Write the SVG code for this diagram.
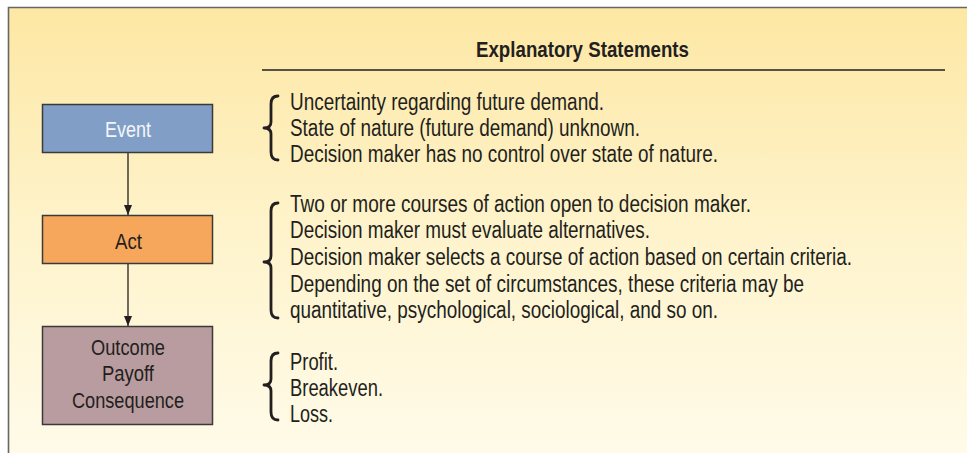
<svg xmlns="http://www.w3.org/2000/svg" width="967" height="453" viewBox="0 0 967 453">
<defs>
<linearGradient id="bg" x1="0" y1="0" x2="0" y2="1">
<stop offset="0" stop-color="#fde7a3"/>
<stop offset="0.5" stop-color="#fef3cb"/>
<stop offset="1" stop-color="#fffbe9"/>
</linearGradient>
<marker id="arr" markerWidth="10" markerHeight="8" refX="10" refY="4" orient="auto" markerUnits="userSpaceOnUse" viewBox="0 0 10 8">
<path d="M0,0 L10,4 L0,8 Z" fill="#231f20"/>
</marker>
</defs>
<style>
text{font-family:"Liberation Sans Narrow","Liberation Sans",Arial,sans-serif;font-size:23px;fill:#231f20}
.hd{font-weight:bold;font-size:22px}
.bl{font-size:22px}
.box{stroke:#3a3a3a;stroke-width:1.5}
.brace{fill:none;stroke:#231f20;stroke-width:2.8;stroke-linejoin:round;stroke-linecap:round}
.conn{stroke:#231f20;stroke-width:1.3;fill:none}
</style>
<rect x="0" y="0" width="967" height="453" fill="#ffffff"/>
<rect x="8" y="7" width="959" height="446" fill="url(#bg)"/>
<path d="M8.5,453 L8.5,7.5 L967,7.5" fill="none" stroke="#666666" stroke-width="1.6"/>

<g id="header">
<text class="hd" x="476" y="57" textLength="213" lengthAdjust="spacingAndGlyphs">Explanatory Statements</text>
<line x1="262" y1="70" x2="945" y2="70" stroke="#231f20" stroke-width="1.3"/>
</g>

<g id="connectors">
<line class="conn" x1="128" y1="153" x2="128" y2="215" marker-end="url(#arr)"/>
<line class="conn" x1="128" y1="264" x2="128" y2="326" marker-end="url(#arr)"/>
</g>

<g id="event">
<rect class="box" x="42.5" y="104.5" width="170" height="48" fill="#819fc6"/>
<text class="bl" x="105" y="137" textLength="46" lengthAdjust="spacingAndGlyphs" style="fill:#f3f6fb">Event</text>
</g>
<g id="act">
<rect class="box" x="42.5" y="215.5" width="170" height="48" fill="#f7a75b"/>
<text class="bl" x="115" y="249" textLength="27" lengthAdjust="spacingAndGlyphs">Act</text>
</g>
<g id="outcome">
<rect class="box" x="42.5" y="326.5" width="170" height="98" fill="#b99c9f"/>
<text class="bl" x="91" y="355" textLength="74" lengthAdjust="spacingAndGlyphs">Outcome</text>
<text class="bl" x="102" y="381" textLength="52" lengthAdjust="spacingAndGlyphs">Payoff</text>
<text class="bl" x="72" y="408" textLength="112" lengthAdjust="spacingAndGlyphs">Consequence</text>
</g>

<g id="statements-event">
<path class="brace" d="M278,96 Q271,96 271,104 L271,122 Q271,128 264,128 Q271,128 271,134 L271,152 Q271,160 278,160"/>
<text x="290" y="110" textLength="314" lengthAdjust="spacingAndGlyphs">Uncertainty regarding future demand.</text>
<text x="290" y="136" textLength="350" lengthAdjust="spacingAndGlyphs">State of nature (future demand) unknown.</text>
<text x="290" y="162" textLength="428" lengthAdjust="spacingAndGlyphs">Decision maker has no control over state of nature.</text>
</g>

<g id="statements-act">
<path class="brace" d="M278,203 Q271,203 271,211 L271,256 Q271,262 264,262 Q271,262 271,268 L271,310 Q271,318 278,318"/>
<text x="290" y="212" textLength="461" lengthAdjust="spacingAndGlyphs">Two or more courses of action open to decision maker.</text>
<text x="290" y="238" textLength="360" lengthAdjust="spacingAndGlyphs">Decision maker must evaluate alternatives.</text>
<text x="290" y="265" textLength="562" lengthAdjust="spacingAndGlyphs">Decision maker selects a course of action based on certain criteria.</text>
<text x="290" y="292" textLength="514" lengthAdjust="spacingAndGlyphs">Depending on the set of circumstances, these criteria may be</text>
<text x="290" y="318" textLength="428" lengthAdjust="spacingAndGlyphs">quantitative, psychological, sociological, and so on.</text>
</g>

<g id="statements-outcome">
<path class="brace" d="M278,353 Q271,353 271,361 L271,379 Q271,385 264,385 Q271,385 271,391 L271,412 Q271,420 278,420"/>
<text x="290" y="370" textLength="48" lengthAdjust="spacingAndGlyphs">Profit.</text>
<text x="290" y="396" textLength="93" lengthAdjust="spacingAndGlyphs">Breakeven.</text>
<text x="290" y="422" textLength="43" lengthAdjust="spacingAndGlyphs">Loss.</text>
</g>
</svg>
